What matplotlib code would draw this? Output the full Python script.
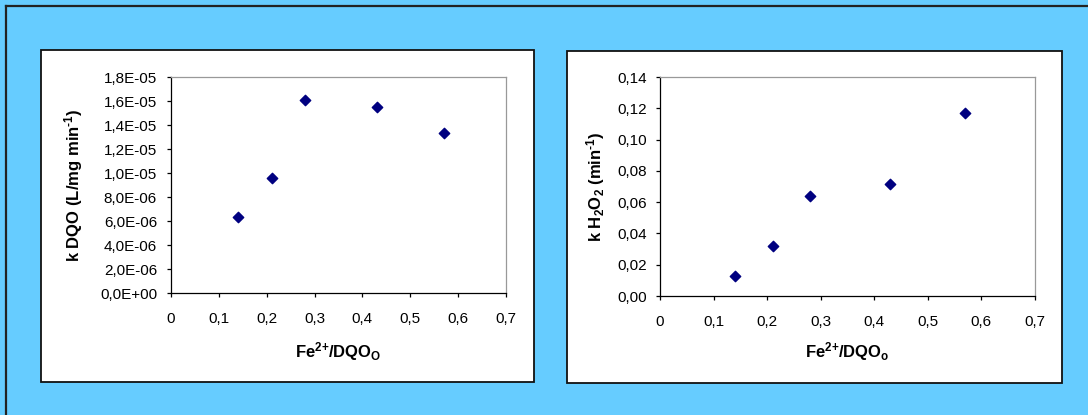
import numpy as np
import matplotlib
matplotlib.use('Agg')
import matplotlib.pyplot as plt
from matplotlib.patches import Rectangle
from matplotlib.lines import Line2D
from matplotlib.ticker import FuncFormatter, MultipleLocator

# data
ratio = [0.14, 0.21, 0.28, 0.43, 0.57]
k_dqo = [6.3e-06, 9.6e-06, 1.61e-05, 1.55e-05, 1.33e-05]
k_h2o2 = [0.0125, 0.032, 0.064, 0.0715, 0.117]

plt.rcParams['font.family'] = ['Liberation Sans', 'DejaVu Sans']
plt.rcParams['mathtext.fontset'] = 'custom'
plt.rcParams['mathtext.rm'] = 'Liberation Sans:bold'
plt.rcParams['mathtext.it'] = 'Liberation Sans:bold'
plt.rcParams['mathtext.bf'] = 'Liberation Sans:bold'

W, H = 1088, 415
fig = plt.figure(figsize=(W/100, H/100), dpi=100)
fig.patch.set_facecolor('#66ccff')

# outer frame lines (top and left)
fig.add_artist(Line2D([6/W, 1], [1-6/H, 1-6/H], color='#222222', lw=1.6,
                      transform=fig.transFigure, zorder=-10))
fig.add_artist(Line2D([6/W, 6/W], [0, 1-6/H], color='#222222', lw=1.6,
                      transform=fig.transFigure, zorder=-10))

# white panels
for x0, y0, x1, y1 in [(41, 50, 534, 382), (567, 51, 1062, 383)]:
    fig.add_artist(Rectangle((x0/W, 1-y1/H), (x1-x0)/W, (y1-y0)/H, facecolor='white',
                             edgecolor='#111111', lw=1.3, transform=fig.transFigure, zorder=-10))

def xfmt(v, pos):
    if abs(v) < 1e-9: return '0'
    return ('%.1f' % v).replace('.', ',')

def style(ax, xpad, ypad):
    ax.set_xlim(0, 0.7)
    ax.xaxis.set_major_locator(MultipleLocator(0.1))
    ax.xaxis.set_major_formatter(FuncFormatter(xfmt))
    for s in ['top', 'right']:
        ax.spines[s].set_color('#999999')
    for s in ['left', 'bottom']:
        ax.spines[s].set_color('black')
    for s in ax.spines.values():
        s.set_linewidth(0.9)
    ax.tick_params(axis='both', direction='out', length=3, width=0.9, labelsize=11)
    ax.tick_params(axis='x', pad=xpad)
    ax.tick_params(axis='y', pad=ypad)
    ax.xaxis.label.set_va('center')
    ax.yaxis.label.set_va('center')

ax1 = fig.add_axes([171/W, 1-293/H, 335/W, 216/H])
ax1.scatter(ratio, k_dqo, marker='D', s=28, color='#000080', zorder=3, clip_on=False)
ax1.set_ylim(0, 1.8e-05)
ax1.yaxis.set_major_locator(MultipleLocator(2e-06))
ax1.yaxis.set_major_formatter(FuncFormatter(lambda v, p: ('%.1E' % v).replace('.', ',')))
ax1.set_ylabel(r'k DQO (L/mg min$^{\text{-1}}$)', fontsize=12, fontweight='bold')
ax1.set_xlabel(r'Fe$^{\text{2+}}$/DQO$_{\text{O}}$', fontsize=12, fontweight='bold')
style(ax1, 11, 7)
ax1.yaxis.set_label_coords((74-171)/335, 0.5)
ax1.xaxis.set_label_coords(0.5, (293-352)/216)

ax2 = fig.add_axes([660/W, 1-296/H, 375/W, 219/H])
ax2.scatter(ratio, k_h2o2, marker='D', s=28, color='#000080', zorder=3, clip_on=False)
ax2.set_ylim(0, 0.14)
ax2.yaxis.set_major_locator(MultipleLocator(0.02))
ax2.yaxis.set_major_formatter(FuncFormatter(lambda v, p: ('%.2f' % v).replace('.', ',')))
ax2.set_ylabel(r'k H$_{\text{2}}$O$_{\text{2}}$ (min$^{\text{-1}}$)', fontsize=12, fontweight='bold')
ax2.set_xlabel(r'Fe$^{\text{2+}}$/DQO$_{\text{o}}$', fontsize=12, fontweight='bold')
style(ax2, 10.5, 6)
ax2.yaxis.set_label_coords((596-660)/375, 0.5)
ax2.xaxis.set_label_coords(0.5, (296-352)/219)

fig.savefig('out.png', dpi=100, facecolor=fig.get_facecolor())
